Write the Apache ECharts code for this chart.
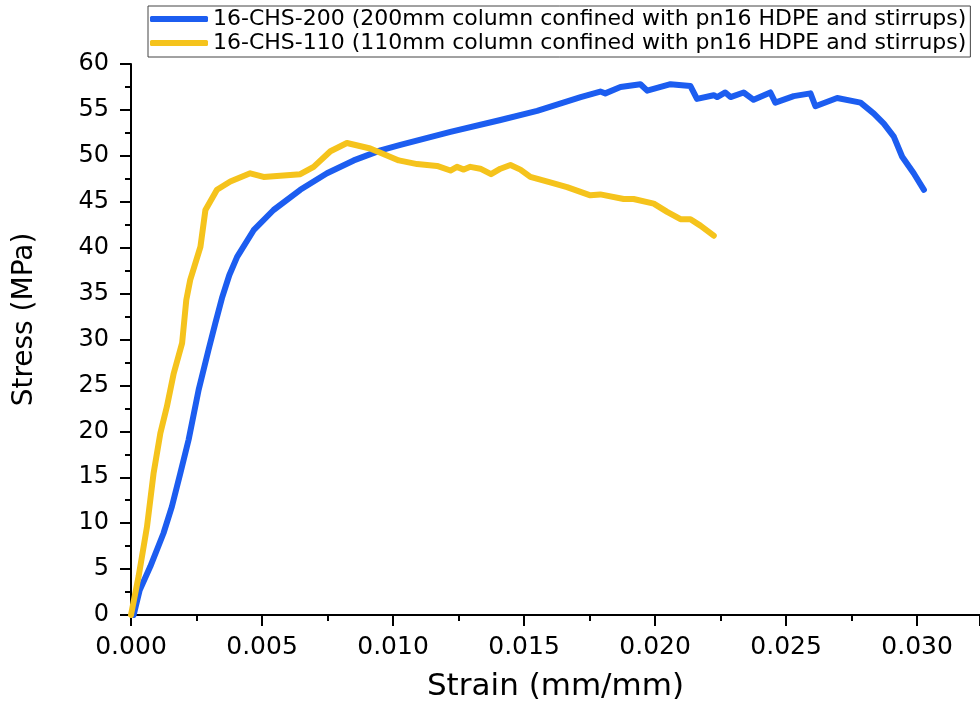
<!DOCTYPE html>
<html>
<head>
<meta charset="utf-8">
<script src="https://cdn.jsdelivr.net/npm/echarts@6/dist/echarts.min.js"></script>
<style>
  html, body { margin: 0; padding: 0; background: #fff; }
  #chart { width: 980px; height: 708px; }
</style>
</head>
<body>
<div id="chart"></div>
<script>
// 16-CHS-200 (blue)
const strain200 = [0.0001, 0.00033, 0.00074, 0.00124, 0.00156, 0.00188, 0.0022, 0.00258, 0.00296, 0.00322,
  0.00347, 0.00375, 0.00405, 0.00468, 0.00544, 0.00646, 0.00748, 0.0085, 0.00952, 0.01028, 0.01219,
  0.0141, 0.0155, 0.01716, 0.01791, 0.0181, 0.01868, 0.01944, 0.0197, 0.02059, 0.02135,
  0.0216, 0.02224, 0.02237, 0.02268, 0.02288, 0.02338, 0.02376, 0.0244, 0.02459, 0.02529,
  0.02593, 0.02612, 0.02695, 0.02784, 0.02835, 0.02873, 0.02911, 0.02943, 0.02987, 0.03026];
const stress200 = [0, 2.7, 5.3, 8.9, 11.8, 15.4, 19.1, 24.5, 28.9, 31.8,
  34.5, 37.0, 39.0, 41.9, 44.1, 46.3, 48.1, 49.5, 50.6, 51.2, 52.6,
  53.9, 54.9, 56.4, 57.0, 56.8, 57.5, 57.8, 57.1, 57.8, 57.6,
  56.2, 56.6, 56.4, 56.9, 56.4, 56.9, 56.1, 56.9, 55.8, 56.5,
  56.8, 55.4, 56.3, 55.8, 54.6, 53.5, 52.1, 49.9, 48.1, 46.3];

// 16-CHS-110 (yellow)
const strain110 = [0, 0.00029, 0.00061, 0.00086, 0.00112, 0.00137, 0.00163, 0.00195, 0.00211, 0.00226,
  0.00265, 0.00284, 0.00328, 0.00379, 0.00455, 0.00506, 0.00646, 0.00697, 0.00761, 0.00824,
  0.00913, 0.01022, 0.01092, 0.01168, 0.01219, 0.01244, 0.0127, 0.01295, 0.01333, 0.01374,
  0.0141, 0.01448, 0.01486, 0.01524, 0.016, 0.01664, 0.01753, 0.01791, 0.0188, 0.01918,
  0.01995, 0.02046, 0.02097, 0.02135, 0.02173, 0.02224];
const stress110 = [0, 4.2, 9.6, 15.4, 19.8, 22.7, 26.3, 29.6, 34.3, 36.5,
  40.1, 44.1, 46.3, 47.2, 48.1, 47.7, 48.0, 48.8, 50.5, 51.4,
  50.8, 49.5, 49.1, 48.9, 48.4, 48.8, 48.5, 48.8, 48.6, 48.0,
  48.6, 49.0, 48.5, 47.7, 47.1, 46.6, 45.7, 45.8, 45.3, 45.3,
  44.8, 43.9, 43.1, 43.1, 42.4, 41.3];

const seriesNames = [
  '16-CHS-200 (200mm column confined with pn16 HDPE and stirrups)',
  '16-CHS-110 (110mm column confined with pn16 HDPE and stirrups)'
];

const zip = (xs, ys) => xs.map((x, i) => [x, ys[i]]);
const font = 'DejaVu Sans';

const chart = echarts.init(document.getElementById('chart'));
chart.setOption({
  animation: false,
  backgroundColor: '#fff',
  textStyle: { fontFamily: font, color: '#000' },
  grid: { left: 131, right: 0, top: 64, bottom: 93 },
  legend: {
    orient: 'vertical',
    left: 148,
    top: 6,
    padding: [2, 4, 3, 2],
    icon: 'roundRect',
    itemWidth: 58,
    itemHeight: 6,
    itemGap: 2,
    borderColor: '#444',
    borderWidth: 1,
    textStyle: { fontFamily: font, fontSize: 22, color: '#000', lineHeight: 22 },
    data: seriesNames
  },
  xAxis: {
    type: 'value',
    min: 0,
    max: 0.0324,
    interval: 0.005,
    name: 'Strain (mm/mm)',
    nameLocation: 'middle',
    nameGap: 56,
    nameTextStyle: { fontFamily: font, fontSize: 31, color: '#000' },
    axisLine: { lineStyle: { color: '#000', width: 2 } },
    axisTick: { inside: false, length: 11, lineStyle: { color: '#000', width: 2 } },
    minorTick: { show: true, splitNumber: 2, length: 6, lineStyle: { color: '#000', width: 2 } },
    splitLine: { show: false },
    axisLabel: {
      fontFamily: font, fontSize: 25, color: '#000', margin: 20, showMaxLabel: false,
      formatter: v => (Math.abs(v / 0.005 - Math.round(v / 0.005)) < 1e-6 ? v.toFixed(3) : '')
    }
  },
  yAxis: {
    type: 'value',
    min: 0,
    max: 60,
    interval: 5,
    name: 'Stress (MPa)',
    nameLocation: 'middle',
    nameGap: 92,
    nameTextStyle: { fontFamily: font, fontSize: 28, color: '#000', padding: [0, 0, 0, 40] },
    axisLine: { show: true, lineStyle: { color: '#000', width: 2 } },
    axisTick: { show: true, length: 11, lineStyle: { color: '#000', width: 2 } },
    minorTick: { show: true, splitNumber: 2, length: 6, lineStyle: { color: '#000', width: 2 } },
    splitLine: { show: false },
    axisLabel: { fontFamily: font, fontSize: 24, color: '#000', margin: 22 }
  },
  series: [
    {
      name: seriesNames[0],
      type: 'line',
      data: zip(strain200, stress200),
      showSymbol: false,
      symbol: 'none',
      color: '#1c5df0',
      lineStyle: { width: 6, color: '#1c5df0', cap: 'round', join: 'round' }
    },
    {
      name: seriesNames[1],
      type: 'line',
      data: zip(strain110, stress110),
      showSymbol: false,
      symbol: 'none',
      color: '#f5c31c',
      lineStyle: { width: 6, color: '#f5c31c', cap: 'round', join: 'round' }
    }
  ]
});
</script>
</body>
</html>
